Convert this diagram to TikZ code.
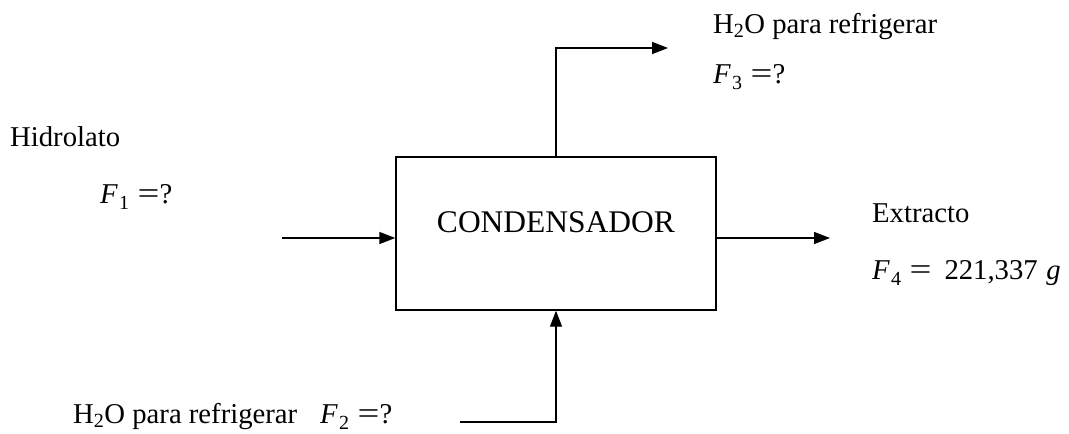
\documentclass[tikz,border=0pt]{standalone}
\usepackage{fontspec}
\usepackage{graphicx}
\setmainfont{Liberation Serif}
\usetikzlibrary{arrows.meta}
\newcommand\Fvar[1]{\textit{F}\kern0.04em\raisebox{-0.22em}{\fontsize{20}{20}\selectfont #1}}
\newcommand\eqsign{\scalebox{1.35}[1.05]{=}}
\tikzset{
  flow/.style={line width=1.4pt,-{Triangle[length=16pt,width=12pt]}},
  unitbox/.style={draw,line width=1.4pt,minimum width=320pt,minimum height=153pt,inner sep=0pt},
  lbl/.style={anchor=base west,inner sep=0pt,font=\fontsize{28.7}{34}\selectfont},
  boxlbl/.style={inner sep=0pt,font=\fontsize{31.5}{36}\selectfont}
}
\begin{document}
\begin{tikzpicture}[x=1pt,y=-1pt]
\useasboundingbox (0,0) rectangle (1069,434);
% unit
\node[unitbox] (cond) at (556,233.5) {};
\node[boxlbl] (condlbl) at ([yshift=11pt]cond.center) {CONDENSADOR};
% free ends
\coordinate (inL) at (282,238);
\coordinate (outR) at (830,238);
\coordinate (topC) at (556,48);
\coordinate (topE) at (668,48);
\coordinate (botS) at (460,422);
\coordinate (botC) at (556,422);
% connectors
\draw[flow] (inL) -- (inL -| cond.west);
\draw[flow] (outR -| cond.east) -- (outR);
\draw[flow] (cond.north) -- (topC) -- (topE);
\draw[flow] (botS) -- (botC) -- (cond.south);
% labels
\node[lbl] (hidro) at (10,146) {Hidrolato};
\node[lbl] (f1) at (100,203) {\Fvar{1}\hspace{0.3em}\eqsign?};
\node[lbl] (h2otop) at (713,33) {H\textsubscript{2}O para refrigerar};
\node[lbl] (f3) at (713,83) {\Fvar{3}\hspace{0.3em}\eqsign?};
\node[lbl] (extr) at (872,222) {Extracto};
\node[lbl] (f4) at (872,279) {\Fvar{4}\hspace{0.3em}\eqsign\hspace{0.45em}221,337\hspace{0.3em}\textit{g}};
\node[lbl] (h2obot) at (73,423) {H\textsubscript{2}O para refrigerar\hspace{0.8em}\Fvar{2}\hspace{0.3em}\eqsign?};
\end{tikzpicture}
\end{document}
